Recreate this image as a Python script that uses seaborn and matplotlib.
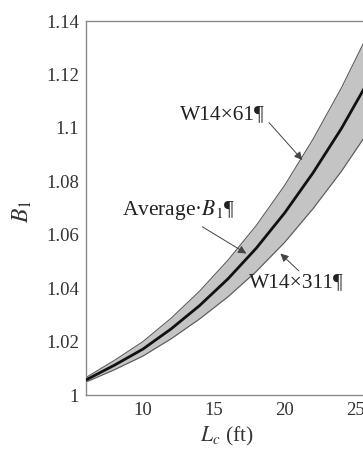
import matplotlib
matplotlib.use("Agg")
import matplotlib.pyplot as plt
import seaborn as sns
import pandas as pd

# Column length L_c (ft) and amplification factor B1
length_ft = [6, 8, 10, 12, 14, 16, 18, 20, 22, 24, 26]
b1_w14x61 = [1.0066, 1.0130, 1.0200, 1.0288, 1.0389, 1.0505, 1.0635, 1.0785, 1.0958, 1.1150, 1.1365]
b1_average = [1.0057, 1.0112, 1.0172, 1.0248, 1.0335, 1.0435, 1.0550, 1.0682, 1.0832, 1.0998, 1.1185]
b1_w14x311 = [1.0049, 1.0095, 1.0146, 1.0211, 1.0285, 1.0368, 1.0463, 1.0572, 1.0698, 1.0838, 1.0995]

x_ticks = [10, 15, 20, 25, 30]
y_ticks = [1.0, 1.02, 1.04, 1.06, 1.08, 1.1, 1.12, 1.14]
y_tick_labels = ["1", "1.02", "1.04", "1.06", "1.08", "1.1", "1.12", "1.14"]

sns.set_theme(style="white")
plt.rcParams["font.family"] = ["Liberation Serif", "DejaVu Serif"]
plt.rcParams["mathtext.fontset"] = "stix"

df = pd.DataFrame({"L": length_ft, "upper": b1_w14x61,
                   "avg": b1_average, "lower": b1_w14x311})

fig = plt.figure(figsize=(3.63, 4.49), dpi=100)
ax = fig.add_axes([0.237, 0.120, 0.938, 0.833])

ax.fill_between(df["L"], df["lower"], df["upper"], color="#c4c4c4", lw=0, zorder=1)
sns.lineplot(data=df, x="L", y="upper", ax=ax, color="#5a5a5a", lw=0.8, zorder=2)
sns.lineplot(data=df, x="L", y="lower", ax=ax, color="#5a5a5a", lw=0.8, zorder=2)
sns.lineplot(data=df, x="L", y="avg", ax=ax, color="#111111", lw=2.0, zorder=3)

ax.set_xlim(6, 30)
ax.set_ylim(1.0, 1.14)
ax.set_xticks(x_ticks)
ax.set_yticks(y_ticks)
ax.set_yticklabels(y_tick_labels)
ax.tick_params(direction="in", length=3, width=0.8, color="#888888",
               labelsize=13.5, labelcolor="#333333", pad=5)
for s in ax.spines.values():
    s.set_color("#8a8a8a")
    s.set_linewidth(1.0)

ax.set_xlabel("")
ax.set_ylabel("")
fig.text(0.061, 0.53, r"$B_1$", rotation=90, fontsize=17, color="#333333",
         ha="center", va="center")
fig.text(0.625, 0.027, r"$L_c$ (ft)", fontsize=15.5, color="#333333",
         ha="center", va="center")

arrow = dict(arrowstyle="-|>", color="#444444", lw=0.7, mutation_scale=12,
             shrinkA=0, shrinkB=0)
ax.text(15.6, 1.1050, "W14×61¶", fontsize=15.5, color="#222222", ha="center", va="center")
ax.annotate("", xy=(21.25, 1.0880), xytext=(18.9, 1.1020), arrowprops=arrow)

ax.text(12.55, 1.0692, "Average·$B_1$¶", fontsize=15.5, color="#222222", ha="center", va="center")
ax.annotate("", xy=(17.3, 1.0530), xytext=(14.2, 1.0630), arrowprops=arrow)

ax.text(20.85, 1.0422, "W14×311¶", fontsize=15.5, color="#222222", ha="center", va="center")
ax.annotate("", xy=(19.7, 1.0530), xytext=(21.0, 1.0465), arrowprops=arrow)

fig.savefig("out.png", dpi=100)
